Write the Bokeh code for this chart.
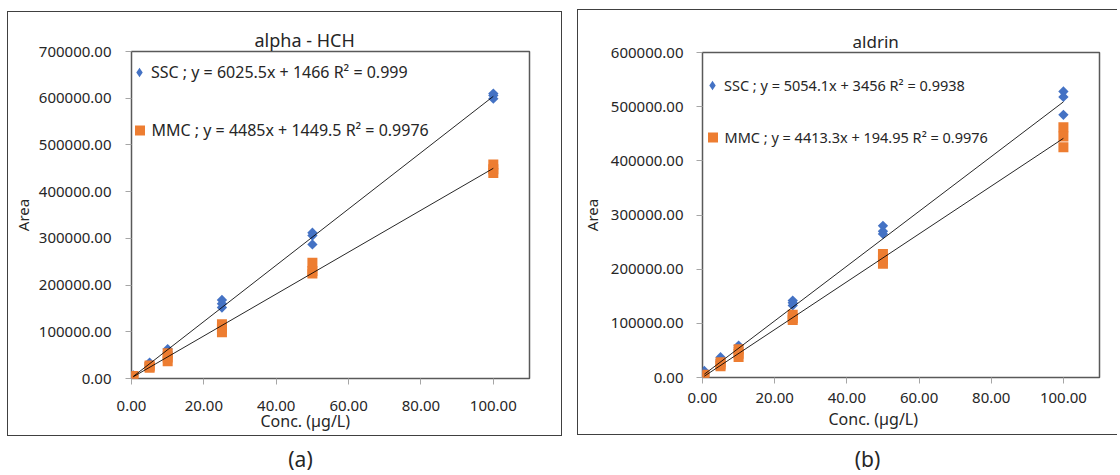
import numpy as np
from bokeh.plotting import figure
from bokeh.layouts import row, column
from bokeh.models import (Range1d, FixedTicker, PrintfTickFormatter, Legend,
                          LegendItem, Label, Title)
from bokeh.embed import file_html
from bokeh.resources import INLINE

# ---------------- data ----------------
x_rep = [0.5, 0.5, 0.5, 5, 5, 5, 10, 10, 10, 25, 25, 25, 50, 50, 50, 100, 100, 100]

hch_ssc = [6500, 5800, 5200, 34000, 31000, 29000, 63000, 58000, 55000,
           168000, 160000, 152000, 312000, 306000, 287000, 610000, 606000, 599000]
hch_mmc = [5200, 4500, 3800, 28000, 25500, 23000, 54000, 45000, 37000,
           116000, 107000, 99000, 248000, 230000, 225000, 458000, 448000, 440000]

ald_ssc = [12000, 8000, 6000, 37500, 33000, 30000, 59000, 55000, 52000,
           142000, 138000, 133000, 280000, 270000, 265000, 528000, 518000, 485000]
ald_mmc = [5000, 3500, 2500, 28000, 24000, 21000, 52000, 44000, 38000,
           116000, 110000, 106000, 228000, 218000, 210000, 462000, 445000, 425000]

hch_slope = [6025.5, 4485.0]
hch_icept = [1466.0, 1449.5]
ald_slope = [5054.1, 4413.3]
ald_icept = [3456.0, 194.95]

hch_labels = ["SSC ; y = 6025.5x + 1466 R² = 0.999",
              "MMC ; y = 4485x + 1449.5 R² = 0.9976"]
ald_labels = ["SSC ; y = 5054.1x + 3456 R² = 0.9938",
              "MMC ; y = 4413.3x + 194.95 R² = 0.9976"]

x_ticks = [0, 20, 40, 60, 80, 100]

BLUE = "#4472C4"
ORANGE = "#ED7D31"
FONT = "Noto Sans"
TXT = "#262626"


def panel(width, height, margin, styles, borders, ymax, ssc, mmc, slopes, icepts,
          labels, leg_font, leg_pos, title, title_off, title_size, title_standoff,
          xlab_off, xlab_standoff, ylab_standoff, x_standoff, y_standoff):
    bl, br, bt, bb = borders
    p = figure(width=width, height=height, margin=margin, styles=styles,
               x_range=Range1d(0, 110), y_range=Range1d(0, ymax),
               output_backend="svg", toolbar_location=None,
               min_border_left=bl, min_border_right=br,
               min_border_top=bt, min_border_bottom=bb)
    p.xgrid.visible = False
    p.ygrid.visible = False
    p.outline_line_color = "#595959"
    p.outline_line_width = 1.5
    p.background_fill_color = "white"
    p.border_fill_color = "white"

    p.title.text = title
    p.title.align = "left"
    p.title.offset = title_off
    p.title.standoff = title_standoff
    p.title.text_font = FONT
    p.title.text_font_size = title_size
    p.title.text_font_style = "normal"
    p.title.text_color = TXT

    p.xaxis.ticker = FixedTicker(ticks=x_ticks)
    p.yaxis.ticker = FixedTicker(ticks=list(range(0, ymax + 1, 100000)))
    for ax in (p.xaxis, p.yaxis):
        ax.formatter = PrintfTickFormatter(format="%.2f")
        ax.axis_line_color = None
        ax.major_tick_out = 6
        ax.major_tick_in = 0
        ax.minor_tick_out = 0
        ax.minor_tick_in = 0
        ax.major_tick_line_color = "#A6A6A6"
        ax.major_label_text_font = FONT
        ax.major_label_text_font_size = "15px"
        ax.major_label_text_color = TXT
    p.xaxis.major_label_standoff = x_standoff
    p.yaxis.major_label_standoff = y_standoff

    p.yaxis.axis_label = "Area"
    p.yaxis.axis_label_text_font = FONT
    p.yaxis.axis_label_text_font_size = "15px"
    p.yaxis.axis_label_text_font_style = "normal"
    p.yaxis.axis_label_text_color = TXT
    p.yaxis.axis_label_standoff = ylab_standoff

    p.add_layout(Title(text="Conc. (µg/L)", align="left", offset=xlab_off,
                       standoff=xlab_standoff, vertical_align="top",
                       text_font=FONT, text_font_size="16px",
                       text_font_style="normal", text_color=TXT), "below")

    p.scatter(x_rep, ssc, marker="square", angle=np.pi / 4, size=7.3,
              fill_color=BLUE, line_color=None)
    r2 = p.scatter(x_rep, mmc, marker="square", size=10,
                   fill_color=ORANGE, line_color=None)
    # key glyph for the SSC legend entry (zero-size, only its legend key shows)
    r1 = p.scatter(x_rep, ssc, marker="diamond", size=0,
                   fill_color=BLUE, line_color=None)
    xs = np.array([min(x_rep), max(x_rep)])
    for a, b in zip(slopes, icepts):
        p.line(xs, a * xs + b, line_color="black", line_width=1, line_alpha=0.85)

    for r, lab, (vx, vy, gw, st) in zip((r1, r2), labels, leg_pos):
        leg = Legend(items=[LegendItem(label=lab, renderers=[r])],
                     location=(vx, vy), glyph_width=gw, glyph_height=28,
                     label_height=28, label_standoff=st, padding=0, margin=0,
                     spacing=0, border_line_color=None,
                     background_fill_alpha=0, label_text_font=FONT,
                     label_text_font_size=leg_font, label_text_color=TXT)
        p.add_layout(leg)
    return p


def tag_fig(text, width, height, margin, xy):
    t = figure(width=width, height=height, margin=margin, x_range=Range1d(0, 1),
               y_range=Range1d(0, 1), output_backend="svg", toolbar_location=None,
               x_axis_type=None, y_axis_type=None, min_border=0)
    t.outline_line_color = None
    t.xgrid.visible = False
    t.ygrid.visible = False
    # screen units: relative to this plot's frame, which the column aligns
    # with the frame of the chart above
    t.add_layout(Label(x=xy[0], y=xy[1], x_units="screen", y_units="screen",
                       text=text, text_align="center", text_baseline="middle",
                       text_font=FONT, text_font_size="21px", text_color=TXT))
    return t


box_style1 = {"border": "1px solid #404040"}
box_style2 = {"border": "1px solid #404040", "border-right": "none"}

p1 = panel(555, 425, (11, 0, 0, 7), box_style1, (123, 34, 39, 59), 700000,
           hch_ssc, hch_mmc, hch_slope, hch_icept, hch_labels, "16px",
           [(-4, 292, 24, 0), (-4.5, 234, 25, 0)],
           "alpha - HCH", 123, "18px", 0, 129, -8, 3, 16, 14)
p2 = panel(540, 426, (9, 0, 0, 13), box_style2, (124, 19, 42, 59), 600000,
           ald_ssc, ald_mmc, ald_slope, ald_icept, ald_labels, "14.5px",
           [(-2, 278, 24, 0), (-2.5, 226, 25, 0)],
           "aldrin", 150, "17px", 0, 126, 5, 6, 9, 13)

t1 = tag_fig("(a)", 557, 37, (0, 0, 0, 7), (170, 15))
t2 = tag_fig("(b)", 541, 38, (0, 0, 0, 13), (166, 15))

layout = row(column(p1, t1), column(p2, t2))
open("out.html", "w").write(file_html(layout, INLINE))
